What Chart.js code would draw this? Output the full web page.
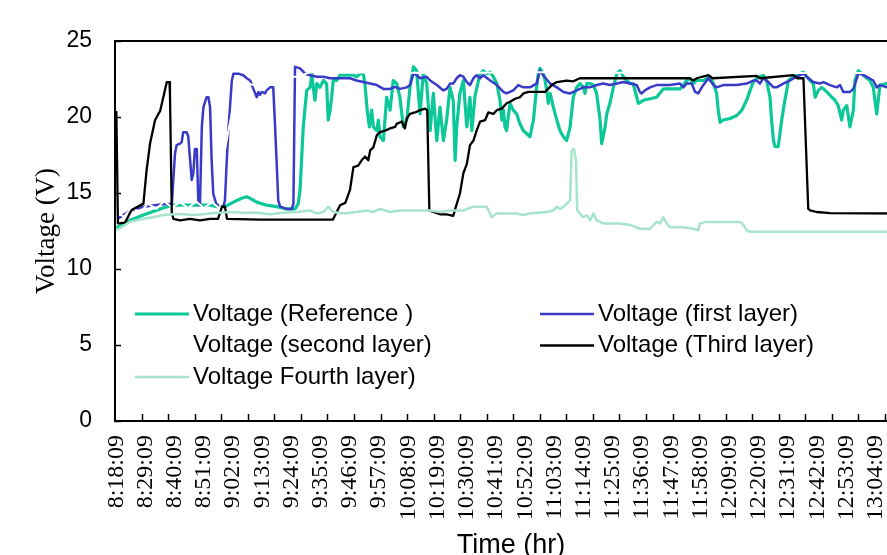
<!DOCTYPE html>
<html>
<head>
<meta charset="utf-8">
<script src="https://cdn.jsdelivr.net/npm/chart.js@4"></script>
<style>
  html, body { margin: 0; padding: 0; background: #fff; overflow: hidden; width: 887px; height: 555px; }
  canvas { display: block; }
</style>
</head>
<body>
<canvas id="voltChart" width="910" height="565"></canvas>
<script>
// time axis: minutes after 8:18:09 (one category per minute), labels every 11 minutes
const tickLabels = ['8:18:09', '8:29:09', '8:40:09', '8:51:09', '9:02:09', '9:13:09', '9:24:09', '9:35:09',
    '9:46:09', '9:57:09', '10:08:09', '10:19:09', '10:30:09', '10:41:09', '10:52:09', '11:03:09', '11:14:09',
    '11:25:09', '11:36:09', '11:47:09', '11:58:09', '12:09:09', '12:20:09', '12:31:09', '12:42:09', '12:53:09', '13:04:09'];
const labelStep = 11;
const yTicks = [0, 5, 10, 15, 20, 25];

// [minute, volts]
const reference = [[0,12.7],[5.2,13.2],[10.2,13.55],[16.5,13.95],[20.9,14.2],[25.2,14.2],[30.3,14.2],[35.3,14.2],[37.8,14.1],[40.9,14.1],
    [44.1,14.4],[47.2,14.65],[49.1,14.75],[50.4,14.65],[52.9,14.4],[56.6,14.2],[60.4,14.1],[64.2,13.95],[67.3,13.95],[68.5,14.3],
    [69.2,15.2],[70.4,19.35],[71.7,21.75],[73.0,21.95],[73.6,22.85],[74.2,21.95],[74.8,21.1],[75.5,22.2],[76.7,21.95],[78.0,22.4],
    [79.2,22.2],[79.8,19.8],[80.5,20.45],[81.1,21.3],[81.7,22.4],[83.0,22.4],[84.2,22.75],[89.3,22.75],[90.5,22.65],[91.8,22.85],
    [93.0,22.85],[93.6,22.2],[94.5,20.45],[95.3,19.35],[96.2,20.45],[96.8,19.35],[98.1,19.1],[98.7,19.8],[99.3,18.7],[100.6,18.45],
    [101.8,21.3],[103.1,20.45],[104.3,22.4],[105.6,22.2],[106.8,21.3],[108.1,19.35],[109.4,19.8],[110.6,21.95],[111.9,23.3],[113.1,23.05],
    [114.4,20.2],[115.6,22.85],[116.9,22.2],[118.2,19.1],[119.4,21.55],[120.7,18.45],[121.9,20.65],[123.2,18.45],[124.4,19.8],[125.7,21.95],
    [126.9,21.1],[127.6,17.15],[128.2,19.35],[129.4,21.55],[130.7,22.4],[132.0,19.35],[133.2,21.3],[133.9,19.1],[135.1,21.4],[137.0,22.85],
    [138.2,23.05],[139.5,22.85],[140.8,22.95],[142.0,22.65],[143.3,22.2],[144.5,21.1],[145.2,19.8],[145.8,20.45],[146.4,19.35],[147.0,19.1],
    [147.6,20.0],[148.3,20.9],[149.5,20.45],[150.8,20.2],[152.0,19.55],[153.3,19.1],[154.6,18.9],[155.8,18.7],[157.1,19.8],[158.3,21.95],
    [158.9,22.85],[159.6,23.2],[160.8,22.85],[161.5,22.4],[162.1,21.75],[162.7,20.9],[163.4,21.55],[164.6,20.65],[165.9,19.8],[167.1,19.1],
    [168.4,18.7],[169.6,18.45],[170.9,19.35],[172.1,21.3],[173.4,21.95],[174.6,22.2],[175.9,21.95],[176.5,21.55],[177.2,22.2],[178.4,22.2],
    [179.7,22.1],[180.9,21.55],[182.2,19.8],[182.8,18.25],[184.1,19.35],[184.7,20.2],[185.9,20.9],[187.2,21.95],[188.5,22.85],[189.7,23.05],
    [191.0,22.65],[192.2,22.4],[193.5,22.2],[194.7,22.2],[196.0,21.3],[196.6,20.9],[198.5,21.1],[201.0,21.2],[203.5,21.3],[206.0,21.85],
    [208.5,21.85],[212.3,21.85],[213.6,22.1],[214.8,22.4],[216.1,22.55],[217.3,22.2],[218.6,22.4],[221.1,22.4],[222.4,22.55],[223.6,22.65],
    [224.9,22.2],[226.1,21.55],[226.7,20.45],[227.4,19.65],[228.6,19.8],[231.1,19.9],[233.7,20.1],[235.6,20.45],[237.4,21.1],[238.7,21.75],
    [239.9,22.3],[241.2,22.55],[243.7,22.75],[244.9,22.4],[246.2,21.3],[246.8,19.8],[247.5,18.45],[248.1,18.05],[249.3,18.05],[250.6,19.8],
    [251.8,21.1],[252.5,21.75],[253.1,22.4],[255.0,22.65],[257.5,22.85],[258.8,22.95],[260.0,22.65],[261.3,22.4],[262.5,22.2],[263.2,21.3],
    [264.4,21.75],[265.7,21.95],[267.6,21.65],[269.5,21.3],[270.7,21.1],[271.9,20.75],[273.2,19.8],[273.8,20.45],[275.1,20.75],[276.3,19.35],
    [277.6,20.45],[278.2,22.4],[279.5,23.05],[281.3,22.75],[283.8,22.4],[285.1,21.95],[286.4,20.2],[287.6,22.1],[290.3,22.2],[298,22.3]];

const firstLayer = [[0.5,13.3],[5.2,13.85],[10.2,14.1],[16.5,14.25],[20.9,14.3],[22.1,17.6],[22.7,18.15],[24.0,18.25],[24.6,18.35],[25.2,19.0],
    [26.5,19.0],[27.1,18.7],[27.8,17.15],[28.4,15.85],[29.0,16.3],[29.6,17.9],[30.3,17.9],[30.9,14.3],[31.5,14.2],[32.2,19.35],
    [32.8,20.65],[34.0,21.3],[34.7,21.3],[35.3,20.65],[35.9,17.15],[36.5,14.95],[37.6,14.3],[39.1,14.1],[40.3,14.1],[40.9,14.5],
    [41.6,17.15],[42.2,19.1],[43.5,22.4],[44.1,22.85],[46.0,22.85],[47.8,22.75],[49.1,22.55],[50.4,22.4],[51.6,21.85],[52.9,21.3],
    [53.5,21.65],[54.1,21.45],[54.8,21.65],[56.0,21.55],[56.6,21.75],[57.9,21.95],[59.1,21.95],[59.8,19.35],[61.0,14.5],[61.7,14.1],
    [64.2,13.95],[66.1,13.95],[66.7,14.3],[67.3,23.3],[69.2,23.2],[71.1,22.85],[73.0,22.75],[75.5,22.65],[78.0,22.65],[80.5,22.55],
    [88.0,22.55],[90.5,22.4],[93.0,22.3],[95.6,22.2],[98.1,22.1],[100.6,21.85],[103.1,21.85],[104.3,21.95],[105.6,21.95],[106.8,21.85],
    [109.4,21.95],[110.6,22.1],[111.9,22.85],[113.1,22.75],[114.4,22.55],[116.9,22.65],[118.2,22.4],[120.7,22.1],[123.2,21.75],[124.4,21.85],
    [125.7,22.2],[126.9,22.2],[128.2,22.55],[129.4,22.75],[130.7,22.65],[132.0,22.3],[133.2,22.1],[134.5,22.55],[135.7,22.75],[137.0,22.55],
    [138.2,22.75],[140.8,22.4],[143.3,22.1],[145.8,21.65],[147.0,21.55],[149.5,21.75],[151.4,22.1],[153.3,21.95],[155.8,21.95],[158.3,22.2],
    [159.6,23.05],[160.8,22.75],[163.4,22.2],[165.9,21.95],[168.4,21.65],[170.9,21.55],[173.4,21.75],[175.9,21.95],[178.4,21.95],[180.9,22.1],
    [183.4,22.2],[185.9,22.1],[188.5,22.2],[191.0,22.3],[193.5,22.2],[196.0,22.1],[197.2,21.65],[197.9,21.55],[199.1,21.75],[201.0,21.95],
    [203.5,22.1],[208.5,22.1],[212.3,22.2],[213.6,21.95],[214.8,22.2],[216.7,22.2],[218.0,21.65],[219.2,21.55],[220.5,21.95],[223.0,22.55],
    [223.6,22.4],[224.9,22.1],[226.1,21.95],[228.6,22.1],[233.7,22.1],[237.4,22.2],[239.9,22.4],[241.2,22.4],[242.4,22.2],[243.7,22.55],
    [245.6,22.3],[247.5,21.95],[248.7,21.95],[251.2,22.2],[253.7,22.4],[256.3,22.65],[258.8,22.85],[260.0,22.65],[262.5,22.3],[265.0,22.2],
    [266.3,22.3],[268.8,22.1],[271.3,21.95],[272.6,22.1],[273.8,21.65],[276.3,21.65],[277.6,21.85],[279.5,22.85],[280.1,22.85],[282.6,22.65],
    [285.1,22.4],[286.4,21.95],[287.6,22.1],[290.3,21.95],[298,22.0]];

const secondLayer = [[0,13.7],[2.9,13.45],[5.9,14.05],[8.9,13.7],[11.9,14.3],[15.0,13.95],[18.0,14.45],[21.0,14.05],[24.0,14.4],[27.0,14.0],
    [30.0,14.45],[33.0,14.0],[36.0,14.4],[39.1,13.95],[40.0,17.0],[42.4,19.25],[45.1,21.75],[48.5,22.3],[51.5,22.1],[54.9,22.4],
    [59.8,22.5],[65.4,22.6],[69.2,22.7],[73.0,22.95],[120,22.9],[160,22.95],[200,22.9],[240,22.9],[298,22.9]];

const thirdLayer = [[0,20.4],[0.6,13.0],[3.3,13.05],[5.2,13.7],[5.9,13.9],[10.2,14.3],[11.4,16.5],[12.7,18.25],[14.6,19.8],[16.5,20.4],
    [17.7,21.3],[19.0,22.3],[20.0,22.3],[20.2,21.5],[20.9,13.7],[21.5,13.3],[24.0,13.2],[27.7,13.3],[31.5,13.2],[35.3,13.3],
    [38.3,13.3],[39.8,14.1],[40.9,14.1],[41.7,13.3],[54.1,13.25],[81.6,13.25],[83.0,13.75],[84.3,14.2],[86.2,14.34],[88.0,15.2],
    [89.3,16.7],[91.1,16.8],[92.4,17.15],[93.7,17.4],[94.9,17.15],[95.6,17.8],[96.8,18.0],[98.1,18.8],[99.3,19.0],[101.2,19.1],
    [103.1,19.25],[105.0,19.35],[105.6,19.55],[107.5,19.7],[108.7,19.25],[109.4,19.9],[110.6,20.2],[112.5,20.3],[114.4,20.45],[116.3,20.55],
    [117.1,20.45],[117.9,13.85],[119.4,13.75],[121.9,13.6],[124.4,13.6],[126.9,13.5],[127.9,14.1],[129.4,14.95],[130.7,16.3],[132.0,16.9],
    [133.2,18.15],[134.5,18.45],[135.7,19.1],[137.0,19.7],[138.9,19.8],[140.1,20.3],[142.0,20.2],[143.3,20.45],[145.2,20.55],[147.0,20.9],
    [148.3,21.0],[150.2,21.2],[152.0,21.3],[153.3,21.55],[155.2,21.65],[161.5,21.65],[164.0,22.1],[165.9,22.3],[169.6,22.4],[172.1,22.35],
    [174.6,22.55],[216.0,22.55],[217.3,22.4],[218.6,22.55],[223.0,22.75],[224.5,22.55],[241.2,22.7],[242.5,22.55],[255.0,22.75],[256.5,22.55],
    [258.8,22.55],[259.8,17.8],[260.6,13.97],[261.3,13.86],[263.8,13.75],[268.8,13.68],[298,13.65]];

const fourthLayer = [[0,12.55],[5.2,13.1],[10.2,13.3],[13.9,13.4],[17.7,13.55],[21.5,13.6],[25.2,13.6],[29.0,13.55],[32.8,13.6],[35.3,13.65],
    [39.1,13.7],[42.9,13.75],[47.8,13.7],[52.9,13.7],[57.9,13.6],[62.9,13.7],[67.9,13.75],[73.0,13.85],[75.5,13.65],[78.0,13.75],
    [79.8,14.1],[81.7,13.75],[85.5,13.65],[90.5,13.75],[94.3,13.85],[96.8,13.75],[99.3,13.95],[103.1,13.75],[106.8,13.85],[113.1,13.85],
    [118.2,13.85],[121.9,13.75],[125.7,13.85],[130.7,13.85],[134.5,14.1],[139.5,14.1],[141.4,13.4],[143.3,13.65],[150.8,13.65],[153.3,13.55],
    [155.8,13.65],[162.1,13.75],[164.6,13.85],[165.9,14.1],[167.1,13.95],[168.4,14.1],[170.9,14.5],[171.5,17.8],[172.4,17.9],[173.1,17.15],
    [173.6,13.85],[175.9,13.4],[177.2,13.55],[178.4,13.2],[179.7,13.65],[180.9,13.2],[182.2,13.1],[183.4,13.0],[189.7,13.0],[193.5,12.9],
    [197.2,12.65],[201.0,12.65],[203.5,13.1],[204.8,13.0],[206.0,13.4],[207.3,13.0],[208.5,12.75],[213.6,12.75],[217.3,12.65],[219.2,12.55],
    [219.8,13.0],[222.4,13.1],[234.9,13.1],[236.2,12.9],[237.4,12.55],[238.7,12.45],[298,12.45]];

const sans = "'Liberation Sans', Arial, sans-serif";
const serif = "'Liberation Serif', 'Times New Roman', serif";

function toPoints(pairs) {
    return pairs.map(p => ({ x: p[0], y: p[1] }));
}

// legend slots: [column, row] for each dataset, like the two-column legend of the original
const legendSlots = [[0, 0], [1, 0], [0, 1], [1, 1], [0, 2]];

const framePlugin = {
    id: 'frame',
    afterDraw(chart) {
        const ctx = chart.ctx;
        const a = chart.chartArea;
        const xs = chart.scales.x;
        const ys = chart.scales.y;
        ctx.save();
        ctx.strokeStyle = '#000';
        ctx.lineWidth = 2;
        ctx.strokeRect(a.left, a.top, a.right - a.left, a.bottom - a.top);

        // inward tick marks
        ctx.lineWidth = 1.5;
        ctx.beginPath();
        for (let m = 9.5; m < xs.max; m += 10) {
            const px = Math.round(xs.getPixelForValue(m)) + 0.5;
            ctx.moveTo(px, a.bottom);
            ctx.lineTo(px, a.bottom - 7);
        }
        yTicks.forEach(v => {
            const py = Math.round(ys.getPixelForValue(v)) + 0.5;
            ctx.moveTo(a.left - 1, py);
            ctx.lineTo(a.left + 6, py);
        });
        ctx.stroke();

        // legend inside the plot
        const colX = [135, 540];
        const rowY = [314, 345.5, 377];
        ctx.font = '24px ' + sans;
        ctx.textBaseline = 'middle';
        ctx.textAlign = 'left';
        chart.data.datasets.forEach((ds, i) => {
            const [c, r] = legendSlots[i];
            const x0 = colX[c];
            const y0 = rowY[r];
            ctx.strokeStyle = ds.borderColor;
            ctx.lineWidth = ds.borderWidth;
            ctx.beginPath();
            ctx.moveTo(x0, y0);
            ctx.lineTo(x0 + 54, y0);
            ctx.stroke();
            ctx.fillStyle = '#000';
            ctx.fillText(ds.label, x0 + 58, y0);
        });
        ctx.restore();
    }
};

const ctx = document.getElementById('voltChart').getContext('2d');
new Chart(ctx, {
    type: 'line',
    data: {
        datasets: [
            { label: 'Voltage (Reference )', data: toPoints(reference), borderColor: '#0cc898', borderWidth: 3.2, order: 5 },
            { label: 'Voltage (first layer)', data: toPoints(firstLayer), borderColor: '#3a3ac8', borderWidth: 2.5, order: 4 },
            { label: 'Voltage (second layer)', data: toPoints(secondLayer), borderColor: '#ffffff', borderWidth: 2, order: 3 },
            { label: 'Voltage (Third layer)', data: toPoints(thirdLayer), borderColor: '#000000', borderWidth: 2.3, order: 2 },
            { label: 'Voltage Fourth layer)', data: toPoints(fourthLayer), borderColor: '#a8e4cc', borderWidth: 2.5, order: 1 }
        ]
    },
    options: {
        responsive: false,
        animation: false,
        devicePixelRatio: 1,
        layout: { padding: { top: 41, left: 0, right: 3, bottom: 0 } },
        elements: {
            point: { radius: 0 },
            line: { tension: 0, borderJoinStyle: 'round' }
        },
        plugins: {
            legend: { display: false },
            tooltip: { enabled: false }
        },
        scales: {
            x: {
                type: 'linear',
                min: -0.5,
                max: 297.8,
                afterFit: scale => {
                    scale.height = 144;
                    scale.paddingLeft = 0;
                    scale.paddingRight = 0;
                },
                afterBuildTicks: scale => {
                    scale.ticks = tickLabels.map((l, i) => ({ value: i * labelStep }));
                },
                grid: { display: false },
                border: { display: false },
                ticks: {
                    autoSkip: false,
                    maxRotation: 90,
                    minRotation: 90,
                    padding: 6,
                    color: '#000',
                    font: { family: serif, size: 24 },
                    callback: value => tickLabels[Math.round(value / labelStep)]
                },
                title: {
                    display: true,
                    text: 'Time (hr)',
                    color: '#000',
                    font: { family: sans, size: 27 },
                    padding: { top: 0, bottom: 3 }
                }
            },
            y: {
                min: 0,
                max: 25,
                afterFit: scale => {
                    scale.width = 115;
                    scale.paddingTop = 0;
                    scale.paddingBottom = 0;
                },
                afterBuildTicks: scale => {
                    scale.ticks = yTicks.map(v => ({ value: v }));
                },
                grid: { display: false },
                border: { display: false },
                ticks: {
                    padding: 15,
                    color: '#000',
                    font: { family: sans, size: 23 }
                },
                title: {
                    display: true,
                    text: 'Voltage (V)',
                    color: '#000',
                    font: { family: serif, size: 27 },
                    padding: { top: 31, bottom: 0 }
                }
            }
        }
    },
    plugins: [framePlugin]
});
</script>
</body>
</html>
